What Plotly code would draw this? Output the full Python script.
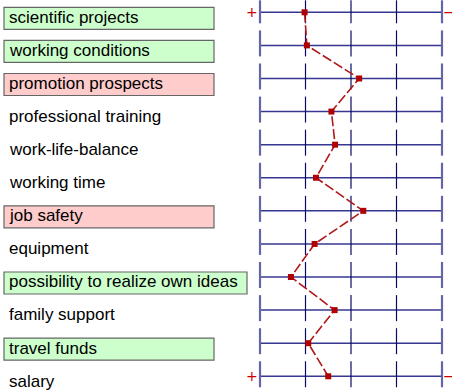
import plotly.graph_objects as go

categories = ["scientific projects", "working conditions", "promotion prospects",
              "professional training", "work-life-balance", "working time",
              "job safety", "equipment", "possibility to realize own ideas",
              "family support", "travel funds", "salary"]
values = [1.98, 2.03, 3.18, 2.57, 2.65, 2.23, 3.27, 2.20, 1.68, 2.64, 2.06, 2.50]
green_items = ["scientific projects", "working conditions",
               "possibility to realize own ideas", "travel funds"]
pink_items = ["promotion prospects", "job safety"]
scale_ticks = [1, 2, 3, 4, 5]

W, H = 452, 390
x_left_px, x_right_px = 260, 442
unit_px = (x_right_px - x_left_px) / (scale_ticks[-1] - scale_ticks[0])
row0_px, row_px = 12.3, 33.09
n = len(categories)

xr = [scale_ticks[0] - x_left_px / unit_px, scale_ticks[-1] + (W - x_right_px) / unit_px]
yr = [(H - row0_px) / row_px, -row0_px / row_px]

def py(px):
    return px / row_px

fig = go.Figure()
shapes = []
annotations = []

for i, cat in enumerate(categories):
    shapes.append(dict(type="line", xref="x", yref="y", x0=scale_ticks[0], x1=scale_ticks[-1],
                       y0=i, y1=i, line=dict(color="rgb(55,55,145)", width=1.5), layer="below"))
    top = i - py(15) if i > 0 else i - py(12)
    bot = i + py(11)
    for k, t in enumerate(scale_ticks):
        outer = k in (0, len(scale_ticks) - 1)
        shapes.append(dict(type="line", xref="x", yref="y", x0=t, x1=t, y0=top, y1=bot,
                           line=dict(color="rgb(100,100,170)" if outer else "rgb(10,10,100)",
                                     width=2.2 if outer else 1.2), layer="below"))
    if cat in green_items or cat in pink_items:
        fill = "#ccffcc" if cat in green_items else "#ffcccc"
        x1 = 214 if cat != "possibility to realize own ideas" else 247
        shapes.append(dict(type="rect", xref="paper", yref="y", x0=4 / W, x1=x1 / W,
                           y0=i - py(5), y1=i + py(17), fillcolor=fill,
                           line=dict(color="#666666", width=1.2), layer="below"))
    annotations.append(dict(text=cat, xref="paper", yref="y", x=6.5 / W, y=i + py(4.8),
                            xanchor="left", yanchor="middle", showarrow=False,
                            font=dict(family="Liberation Sans, Arial", size=17, color="#000000")))

for i in (0, n - 1):
    annotations.append(dict(text="+", xref="paper", yref="y", x=251.7 / W, y=i,
                            xanchor="center", yanchor="middle", showarrow=False,
                            font=dict(family="DejaVu Sans", size=14, color="#cc0000")))
    annotations.append(dict(text="\u2212", xref="paper", yref="y", x=448.5 / W, y=i,
                            xanchor="center", yanchor="middle", showarrow=False,
                            font=dict(family="DejaVu Sans", size=14, color="#cc0000")))

fig.add_trace(go.Scatter(x=values, y=list(range(n)), mode="lines+markers",
                         line=dict(color="#b01818", width=1.6, dash="10px,3px"),
                         marker=dict(symbol="square", size=6, color="#b00000"),
                         hoverinfo="skip", showlegend=False, cliponaxis=False))

fig.update_layout(width=W, height=H, margin=dict(l=0, r=0, t=0, b=0, autoexpand=False),
                  paper_bgcolor="white", plot_bgcolor="white",
                  xaxis=dict(range=xr, visible=False, fixedrange=True),
                  yaxis=dict(range=yr, visible=False, fixedrange=True),
                  shapes=shapes, annotations=annotations)

fig.write_html("out.html", config={"displayModeBar": False},
               post_script="document.body.style.margin='0';document.body.style.overflow='hidden';")
